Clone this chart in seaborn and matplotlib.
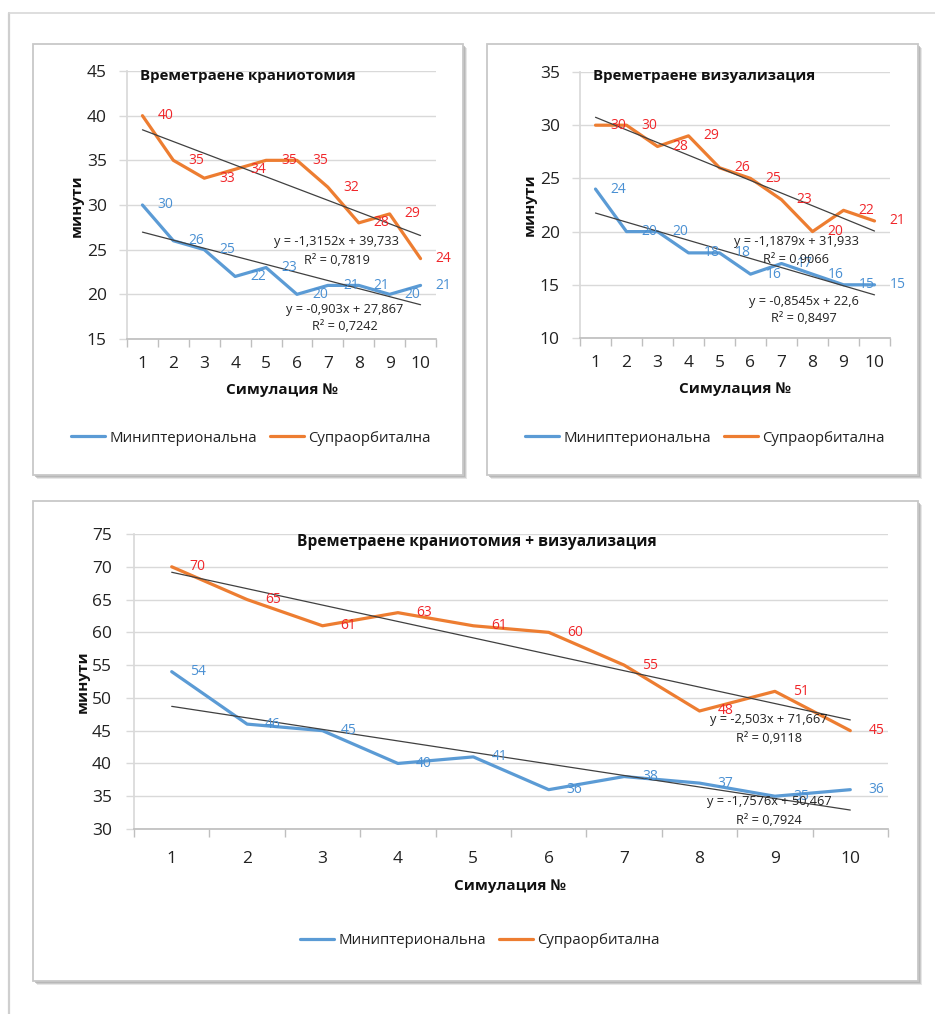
import matplotlib
matplotlib.use("Agg")
import matplotlib.pyplot as plt
from matplotlib.patches import Rectangle
from matplotlib.lines import Line2D
import numpy as np
import pandas as pd
import seaborn as sns

# ---- data -------------------------------------------------------------
simulations = list(range(1, 11))
series_names = ["Миниптериональна", "Супраорбитална"]

crani_mini = [30, 26, 25, 22, 23, 20, 21, 21, 20, 21]
crani_supra = [40, 35, 33, 34, 35, 35, 32, 28, 29, 24]
visual_mini = [24, 20, 20, 18, 18, 16, 17, 16, 15, 15]
visual_supra = [30, 30, 28, 29, 26, 25, 23, 20, 22, 21]
total_mini = [54, 46, 45, 40, 41, 36, 38, 37, 35, 36]
total_supra = [70, 65, 61, 63, 61, 60, 55, 48, 51, 45]

# linear trend: slope, intercept, R²
crani_trend_mini = (-0.903, 27.867, 0.7242)
crani_trend_supra = (-1.3152, 39.733, 0.7819)
visual_trend_mini = (-0.8545, 22.6, 0.8497)
visual_trend_supra = (-1.1879, 31.933, 0.9066)
total_trend_mini = (-1.7576, 50.467, 0.7924)
total_trend_supra = (-2.503, 71.667, 0.9118)

titles = ["Времетраене краниотомия", "Времетраене визуализация",
          "Времетраене краниотомия + визуализация"]
x_label = "Симулация №"
y_label = "минути"

# ---- style ------------------------------------------------------------
sns.set_theme(style="white")
plt.rcParams["font.family"] = ["Open Sans", "DejaVu Sans"]

BLUE = "#5B9BD5"
ORANGE = "#ED7D31"
BLUE_TXT = "#4A90D3"
RED_TXT = "#F0262A"
TREND = "#404040"
GRID = "#D9D9D9"

W, H = 935, 1014
fig = plt.figure(figsize=(W / 100, H / 100), dpi=100)
fig.patch.set_facecolor("white")


def fx(x):
    return x / W


def fy(y):
    return 1 - y / H


def box(x0, y0, x1, y1, shadow=3):
    for k, a in ((shadow + 1, 0.3), (shadow, 0.5), (shadow - 1, 0.7)):
        fig.patches.append(Rectangle((fx(x0 + k), fy(y1 + k)), (x1 - x0) / W,
                                     (y1 - y0) / H, transform=fig.transFigure,
                                     facecolor="#B0B0B0", edgecolor="none",
                                     alpha=a, zorder=-20))
    fig.patches.append(Rectangle((fx(x0), fy(y1)), (x1 - x0) / W, (y1 - y0) / H,
                                 transform=fig.transFigure, facecolor="white",
                                 edgecolor="#C8C8C8", linewidth=1.3, zorder=-10))


# outer page frame
fig.add_artist(Line2D([fx(9), fx(9)], [fy(13), fy(H + 5)], color="#CFCFCF",
                      lw=1.6, transform=fig.transFigure, zorder=-30))
fig.add_artist(Line2D([fx(9), fx(W + 5)], [fy(13), fy(13)], color="#D8D8D8",
                      lw=1.2, transform=fig.transFigure, zorder=-30))

panels = [
    dict(box=(33, 44, 463, 475), axes=(127, 71, 436, 339), ylim=(15, 45),
         mini=crani_mini, supra=crani_supra,
         tmini=crani_trend_mini, tsupra=crani_trend_supra, title=titles[0],
         title_fs=10.8, title_pos=(140, 76, "left"), xlabel_pos=(282, 390),
         ylabel_pos=(77, 206), eq_supra=(337, 242), eq_mini=(345, 309),
         legend=(251, 438), lab_dx=23, lab_fs=10, pad_x=12.5, pad_y=8.5),
    dict(box=(487, 44, 918, 475), axes=(580, 72, 890, 338), ylim=(10, 35),
         mini=visual_mini, supra=visual_supra,
         tmini=visual_trend_mini, tsupra=visual_trend_supra, title=titles[1],
         title_fs=10.8, title_pos=(593, 76, "left"), xlabel_pos=(735, 389),
         ylabel_pos=(530, 205), eq_supra=(796, 241), eq_mini=(804, 301),
         legend=(705, 438), lab_dx=23, lab_fs=10, pad_x=12.5, pad_y=8.5),
    dict(box=(33, 501, 918, 981), axes=(134, 534, 888, 829), ylim=(30, 75),
         mini=total_mini, supra=total_supra,
         tmini=total_trend_mini, tsupra=total_trend_supra, title=titles[2],
         title_fs=11.2, title_pos=(477, 542, "center"), xlabel_pos=(510, 886),
         ylabel_pos=(83, 682), eq_supra=(769, 720), eq_mini=(769, 802),
         legend=(480, 941), lab_dx=26, lab_fs=10, pad_x=16, pad_y=10),
]


def fmt(v):
    return str(v).replace(".", ",")


for p in panels:
    box(*p["box"])
    x0, y0, x1, y1 = p["axes"]
    ax = fig.add_axes([fx(x0), fy(y1), (x1 - x0) / W, (y1 - y0) / H])
    ax.patch.set_alpha(0)

    df = pd.DataFrame({
        "sim": simulations * 2,
        "value": p["mini"] + p["supra"],
        "series": [series_names[0]] * 10 + [series_names[1]] * 10,
    })
    sns.lineplot(data=df, x="sim", y="value", hue="series",
                 palette={series_names[0]: BLUE, series_names[1]: ORANGE},
                 linewidth=2.3, legend=False, ax=ax, zorder=3)

    # linear trend lines from the stated coefficients
    for slope, icpt, _ in (p["tmini"], p["tsupra"]):
        xs = np.array([simulations[0], simulations[-1]])
        sns.lineplot(x=xs, y=slope * xs + icpt, color=TREND, linewidth=0.9,
                     ax=ax, zorder=4)

    # value labels
    for vals, col in ((p["mini"], BLUE_TXT), (p["supra"], RED_TXT)):
        for xv, yv in zip(simulations, vals):
            ax.annotate(str(yv), (xv, yv), xytext=(p["lab_dx"] * 0.72, 0),
                        textcoords="offset points", ha="center", va="center",
                        color=col, fontsize=p["lab_fs"], zorder=6,
                        annotation_clip=False)

    ax.set_xlim(0.5, 10.5)
    ax.set_ylim(*p["ylim"])
    ax.set_yticks(np.arange(p["ylim"][0], p["ylim"][1] + 1, 5))
    ax.set_xticks(simulations)
    ax.set_xticks(np.arange(0.5, 10.6, 1), minor=True)
    ax.tick_params(axis="x", which="major", length=0, pad=p["pad_x"],
                   labelsize=12.5, labelcolor="#222222")
    ax.tick_params(axis="x", which="minor", length=6, width=1, color="#BFBFBF",
                   direction="out", bottom=True)
    ax.tick_params(axis="y", length=6, width=1, color="#D9D9D9", direction="out",
                   left=True, pad=p["pad_y"], labelsize=12.5,
                   labelcolor="#222222")
    ax.yaxis.grid(True, color=GRID, linewidth=1)
    ax.xaxis.grid(False)
    ax.set_axisbelow(True)
    for s in ("top", "right"):
        ax.spines[s].set_visible(False)
    ax.spines["left"].set_color("#D9D9D9")
    ax.spines["bottom"].set_color("#BFBFBF")
    ax.set_xlabel("")
    ax.set_ylabel("")

    tx, ty, tha = p["title_pos"]
    fig.text(fx(tx), fy(ty), p["title"], ha=tha, va="center", fontsize=p["title_fs"],
             fontweight="bold", color="#111111")
    fig.text(fx(p["xlabel_pos"][0]), fy(p["xlabel_pos"][1]), x_label, ha="center",
             va="center", fontsize=11, fontweight="bold", color="#111111")
    fig.text(fx(p["ylabel_pos"][0]), fy(p["ylabel_pos"][1]), y_label, ha="center",
             va="center", rotation=90, fontsize=11, fontweight="bold",
             color="#111111")

    for (slope, icpt, r2), (ex, ey) in ((p["tsupra"], p["eq_supra"]),
                                        (p["tmini"], p["eq_mini"])):
        fig.text(fx(ex), fy(ey), f"y = {fmt(slope)}x + {fmt(icpt)}", ha="center",
                 va="center", fontsize=9.2, color="#222222", zorder=7)
        fig.text(fx(ex), fy(ey + 18), f"R² = {fmt(r2)}", ha="center",
                 va="center", fontsize=9.2, color="#222222", zorder=7)

    handles = [Line2D([], [], color=BLUE, lw=2.3), Line2D([], [], color=ORANGE, lw=2.3)]
    fig.legend(handles, series_names, loc="center",
               bbox_to_anchor=(fx(p["legend"][0]), fy(p["legend"][1])), ncol=2,
               frameon=False, fontsize=10.8, handlelength=2.3, handletextpad=0.3,
               columnspacing=0.8, labelcolor="#222222")

fig.savefig("out.png", dpi=100, facecolor="white")
